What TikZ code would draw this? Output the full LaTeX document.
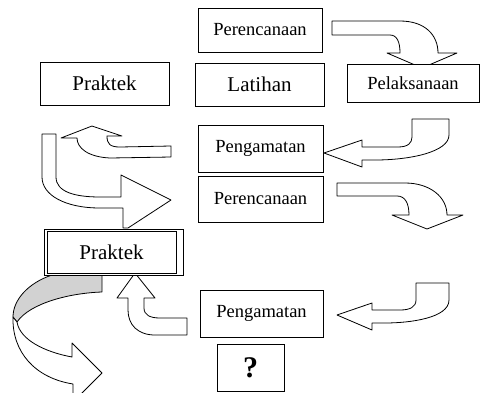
\documentclass[tikz,border=0pt]{standalone}
\usepackage{fontspec}
\setmainfont{Liberation Serif}
\usepackage{xcolor}
\usepackage{tikz}

\begin{document}
\begin{tikzpicture}[x=1pt, y=-1pt]
        \tikzset{
            big_box/.style={draw, shape = rectangle, line width=1pt, fill=white, inner sep=0pt, font=\fontsize{21}{23}\selectfont},
            small_box/.style={draw, shape = rectangle, line width=1pt, fill=white, inner sep=0pt, font=\fontsize{18.5}{20}\selectfont},
            block_arrow/.style={draw, fill=white, line width=0.8pt, line join=round},
            back_face/.style={draw, fill=gray!35, line width=0.8pt, line join=round}
        }
        \useasboundingbox (0,0) rectangle (480,392);
        % block arrows
        \path[block_arrow] (332,21) -- (400,21) .. controls (425,21) and (438,35) .. (438,53) -- (457,53) -- (422,68) -- (387,53) -- (400,53) .. controls (400,42) and (397,35) .. (390,35) -- (332,35) -- cycle;
        \path[block_arrow] (412,119) -- (449,119) -- (449,135) .. controls (449,152) and (410,160) .. (375,160) -- (362,160) -- (362,167) -- (324,153) -- (362,140) -- (362,147) -- (398,147) .. controls (408,147) and (412,143) .. (412,137) -- cycle;
        \path[block_arrow] (92,126) -- (122,136) -- (107,136) .. controls (107,144) and (110,147) .. (120,147) -- (171,146) -- (171,157) -- (110,158) .. controls (88,157) and (77,148) .. (77,138) -- (61,138) -- cycle;
        \path[block_arrow] (42,134) -- (56,134) -- (56,177) .. controls (56,192) and (75,197) .. (100,197) -- (121,197) -- (121,175) -- (171,200) -- (128,228) -- (123,228) -- (123,208) -- (100,208) .. controls (65,208) and (42,195) .. (42,177) -- cycle;
        \path[block_arrow] (337,183) -- (405,183) .. controls (430,183) and (447,197) .. (447,215) -- (463,215) -- (427,229) -- (392,215) -- (409,215) .. controls (409,203) and (405,196) .. (397,196) -- (337,196) -- cycle;
        \path[block_arrow] (135,273) -- (155,298) -- (144,298) -- (144,308) .. controls (144,315) and (150,318) .. (160,318) -- (187,318) -- (187,335) -- (155,335) .. controls (138,335) and (128,325) .. (128,310) -- (128,298) -- (117,298) -- cycle;
        \path[block_arrow] (416,283) -- (449,283) -- (449,300) .. controls (449,318) and (410,323) .. (385,323) -- (372,323) -- (372,330) -- (337,315) -- (372,303) -- (372,310) -- (400,310) .. controls (410,310) and (416,307) .. (416,300) -- cycle;
        % curled arrow below Praktek
        \path[back_face] (52,275) -- (102,275) -- (102,292) .. controls (70,293) and (30,303) .. (17,322) -- (13,317) .. controls (13,300) and (28,283) .. (52,275) -- cycle;
        \path[block_arrow] (13,317) .. controls (12,352) and (35,378) .. (73,384) -- (73,402) -- (102,373) -- (72,343) -- (72,357) .. controls (45,352) and (20,340) .. (17,322) -- cycle;
        % boxes
        \node[small_box, minimum width=124pt, minimum height=44pt] (plan_a) at (260,30) {Perencanaan};
        \node[big_box, minimum width=129pt, minimum height=43pt] (practice_a) at (104.5,83.5) {Praktek};
        \node[big_box, minimum width=129pt, minimum height=43pt] (drill) at (259.5,84.5) {Latihan};
        \node[small_box, minimum width=132pt, minimum height=38pt] (act) at (413,83) {Pelaksanaan};
        \node[small_box, minimum width=125pt, minimum height=47pt] (observe_a) at (260.5,148.5) {Pengamatan};
        \node[small_box, minimum width=125pt, minimum height=46pt] (plan_b) at (260.5,199) {Perencanaan};
        \draw[line width=1pt, fill=white] (44,229) rectangle (183,275);
        \node[big_box, minimum width=129pt, minimum height=42pt] (practice_b) at (111.5,252) {Praktek};
        \node[small_box, minimum width=123pt, minimum height=47pt] (observe_b) at (261.5,313.5) {Pengamatan};
        \node[big_box, minimum width=67pt, minimum height=47pt, font=\fontsize{30}{32}\selectfont\bfseries] (ask) at (250.5,367.5) {?};
\end{tikzpicture}
\end{document}
